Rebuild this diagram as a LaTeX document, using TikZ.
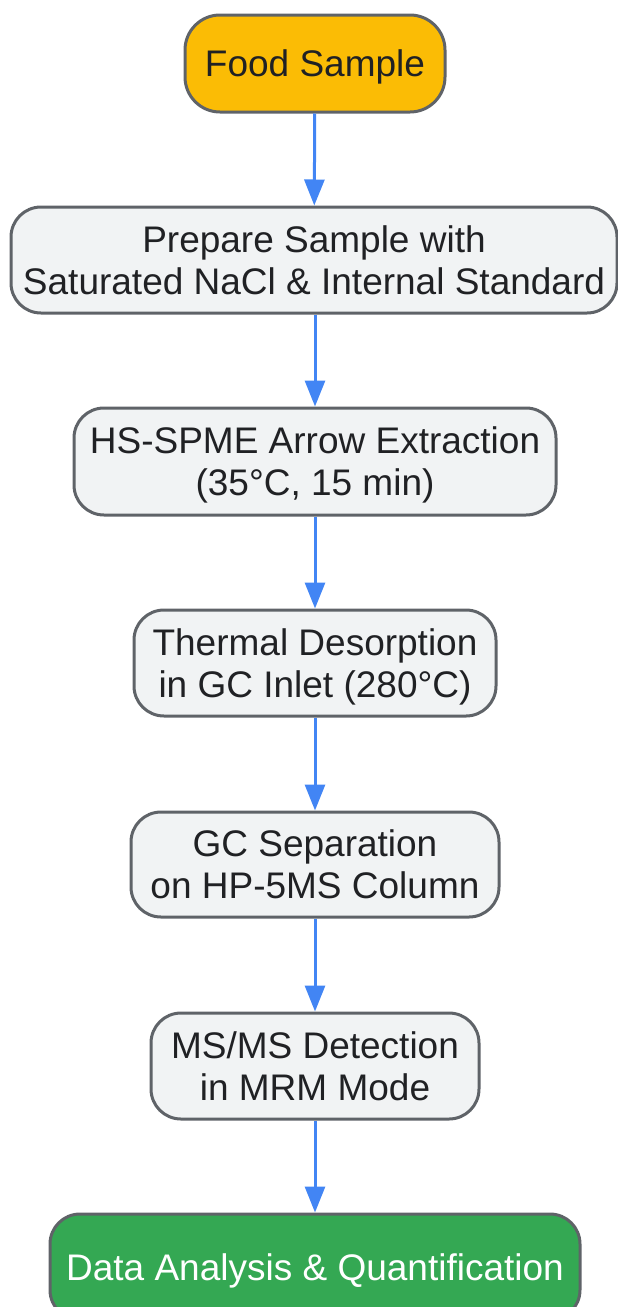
\documentclass[tikz,border=0pt]{standalone}
\usepackage{fontspec}
\setmainfont{Liberation Sans}
\usetikzlibrary{arrows.meta}
\definecolor{bordergray}{HTML}{5F6368}
\definecolor{boxfill}{HTML}{F1F3F4}
\definecolor{txtdark}{HTML}{202124}
\definecolor{foodyellow}{HTML}{FBBC05}
\definecolor{datagreen}{HTML}{34A853}
\definecolor{arrowblue}{HTML}{4285F4}
\tikzset{
  stepbox/.style={draw=bordergray, line width=3pt, fill=boxfill, rounded corners=30pt,
    text=txtdark, align=center, inner sep=0pt, text depth=0pt,
    font=\fontsize{37}{42}\selectfont},
  flowarrow/.style={draw=arrowblue, line width=3pt, -{Triangle[width=20pt,length=26pt]}},
}
\begin{document}
\begin{tikzpicture}[x=1pt,y=-1pt]
\useasboundingbox (0,0) rectangle (618,1307);
\node[stepbox, fill=foodyellow, minimum width=260pt, minimum height=97pt, rounded corners=35pt] (n1) at (315,63.5) {Food Sample};
\node[stepbox, minimum width=606pt, minimum height=106pt] (n2) at (314,260) {Prepare Sample with\\Saturated NaCl \& Internal Standard};
\node[stepbox, minimum width=482pt, minimum height=107pt] (n3) at (315,461.5) {HS-SPME Arrow Extraction\\(35°C, 15 min)};
\node[stepbox, minimum width=362pt, minimum height=106pt] (n4) at (315,663) {Thermal Desorption\\in GC Inlet (280°C)};
\node[stepbox, minimum width=368pt, minimum height=105pt] (n5) at (315,864.5) {GC Separation\\on HP-5MS Column};
\node[stepbox, minimum width=328pt, minimum height=106pt] (n6) at (315,1066) {MS/MS Detection\\in MRM Mode};
\node[stepbox, fill=datagreen, text=white, minimum width=530pt, minimum height=106pt] (n7) at (315,1267) {Data Analysis \& Quantification};
\draw[flowarrow] (n1) -- (n2);
\draw[flowarrow] (n2.south -| n1) -- (n3);
\draw[flowarrow] (n3) -- (n4);
\draw[flowarrow] (n4) -- (n5);
\draw[flowarrow] (n5) -- (n6);
\draw[flowarrow] (n6) -- (n7);
\end{tikzpicture}
\end{document}
